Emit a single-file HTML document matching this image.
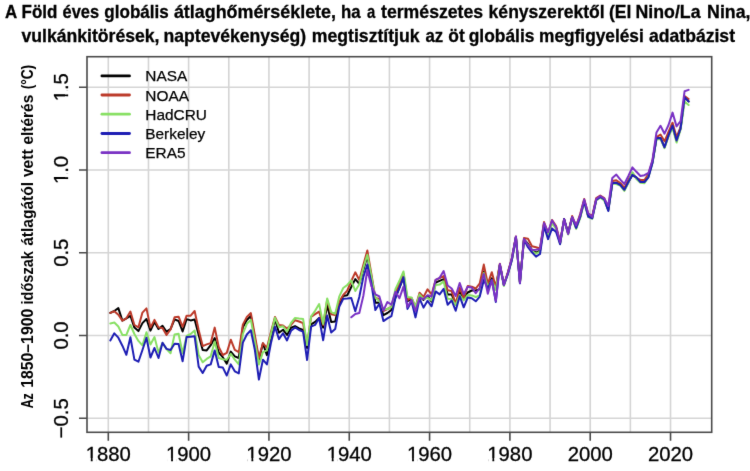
<!DOCTYPE html><html><head><meta charset="utf-8"><style>
html,body{margin:0;padding:0;background:#fff;}
body{width:750px;height:471px;position:relative;overflow:hidden;}
svg{position:absolute;left:0;top:0;}
svg text{font-family:"Liberation Sans",sans-serif;}
</style></head><body>
<svg width="750" height="471" viewBox="0 0 750 471">
<defs><filter id="soft" x="0" y="0" width="750" height="471" filterUnits="userSpaceOnUse" color-interpolation-filters="sRGB"><feConvolveMatrix order="3" kernelMatrix="0.0064 0.0672 0.0064 0.0672 0.7056 0.0672 0.0064 0.0672 0.0064" divisor="1" edgeMode="none" preserveAlpha="false"/></filter></defs>
<rect x="0" y="0" width="750" height="471" fill="#fff"/>
<g filter="url(#soft)">
<path d="M108.30 56.7V432.3M148.46 56.7V432.3M188.62 56.7V432.3M228.78 56.7V432.3M268.94 56.7V432.3M309.10 56.7V432.3M349.26 56.7V432.3M389.42 56.7V432.3M429.58 56.7V432.3M469.74 56.7V432.3M509.90 56.7V432.3M550.06 56.7V432.3M590.22 56.7V432.3M630.38 56.7V432.3M670.54 56.7V432.3M87.0 418.25H711.7M87.0 335.50H711.7M87.0 252.75H711.7M87.0 170.00H711.7M87.0 87.25H711.7" stroke="#d5d5d5" stroke-width="1.6" fill="none"/>
<polyline points="110.31,312.90 114.32,311.00 118.34,308.10 122.36,320.60 126.37,318.30 130.39,315.80 134.40,327.60 138.42,331.10 142.44,323.10 146.45,319.00 150.47,330.60 154.48,322.10 158.50,329.00 162.52,325.80 166.53,331.70 170.55,329.00 174.56,319.40 178.58,321.00 182.60,331.50 186.61,319.10 190.63,320.40 194.64,319.50 198.66,335.00 202.68,349.90 206.69,350.40 210.71,345.20 214.72,338.00 218.74,352.50 222.76,357.20 226.77,363.60 230.79,351.60 234.80,356.30 238.82,358.00 242.84,327.20 246.85,320.00 250.87,316.00 254.88,339.00 258.90,359.70 262.92,343.50 266.93,355.10 270.95,337.00 274.96,319.10 278.98,332.70 283.00,329.70 287.01,334.90 291.03,327.70 295.04,326.10 299.06,328.30 303.08,330.00 307.09,348.00 311.11,324.40 315.12,321.90 319.14,318.00 323.16,327.60 327.17,305.20 331.19,321.90 335.20,321.50 339.22,304.40 343.24,295.90 347.25,295.30 351.27,287.00 355.28,279.10 359.30,283.80 363.32,270.00 367.33,256.20 371.35,277.00 375.36,302.80 379.38,302.40 383.40,315.20 387.41,313.00 391.43,310.00 395.44,297.70 399.46,287.60 403.48,277.40 407.49,301.00 411.51,299.50 415.52,310.00 419.54,296.10 423.56,299.90 427.57,296.00 431.59,301.60 435.60,282.50 439.62,280.80 443.64,279.10 447.65,294.50 451.67,294.40 455.68,304.70 459.70,292.00 463.72,298.80 467.73,292.50 471.75,290.50 475.76,290.50 479.78,289.30 483.80,271.40 487.81,285.50 491.83,278.20 495.84,287.60 499.86,265.00 503.88,285.00 507.89,273.00 511.91,259.00 515.92,237.00 519.94,282.00 523.96,239.50 527.97,243.80 531.99,250.00 536.00,252.70 540.02,250.60 544.04,224.00 548.05,236.00 552.07,222.00 556.08,228.00 560.10,243.00 564.12,219.30 568.13,233.50 572.15,217.00 576.16,228.00 580.18,217.00 584.20,201.00 588.21,216.10 592.23,217.80 596.24,199.50 600.26,196.70 604.28,199.50 608.29,210.00 612.31,182.60 616.32,183.00 620.34,184.70 624.36,189.90 628.37,182.00 632.39,174.90 636.40,178.00 640.42,181.80 644.44,182.20 648.45,176.00 652.47,162.00 656.48,138.30 660.50,137.90 664.52,147.30 668.53,135.40 672.55,126.80 676.56,140.50 680.58,128.50 684.60,97.10 688.61,101.40" fill="none" stroke="#000000" stroke-width="2.0" stroke-linejoin="round" stroke-linecap="round"/>
<polyline points="110.31,312.90 114.32,311.30 118.34,314.80 122.36,320.60 126.37,318.30 130.39,311.60 134.40,325.00 138.42,327.30 142.44,312.60 146.45,308.40 150.47,327.60 154.48,319.90 158.50,327.40 162.52,327.90 166.53,334.90 170.55,329.50 174.56,317.30 178.58,316.70 182.60,326.80 186.61,315.70 190.63,315.70 194.64,311.00 198.66,330.00 202.68,346.10 206.69,344.40 210.71,343.10 214.72,327.60 218.74,347.00 222.76,355.00 226.77,352.90 230.79,339.70 234.80,349.90 238.82,352.10 242.84,324.60 246.85,316.90 250.87,313.10 254.88,335.50 258.90,358.00 262.92,343.10 266.93,347.80 270.95,332.00 274.96,316.90 278.98,325.10 283.00,325.50 287.01,328.50 291.03,324.90 295.04,320.20 299.06,321.50 303.08,323.20 307.09,345.00 311.11,316.80 315.12,314.20 319.14,311.60 323.16,325.00 327.17,300.00 331.19,314.20 335.20,315.00 339.22,301.80 343.24,295.00 347.25,290.60 351.27,281.00 355.28,272.30 359.30,280.00 363.32,265.00 367.33,250.40 371.35,274.00 375.36,298.00 379.38,299.00 383.40,311.00 387.41,309.00 391.43,307.00 395.44,292.00 399.46,284.00 403.48,274.00 407.49,300.00 411.51,298.00 415.52,307.00 419.54,292.70 423.56,296.90 427.57,289.30 431.59,294.40 435.60,279.90 439.62,278.20 443.64,276.10 447.65,290.20 451.67,291.10 455.68,303.90 459.70,287.60 463.72,297.90 467.73,286.00 471.75,286.70 475.76,288.50 479.78,283.30 483.80,264.60 487.81,283.80 491.83,272.20 495.84,287.00 499.86,263.70 503.88,285.00 507.89,272.00 511.91,258.00 515.92,236.50 519.94,282.00 523.96,238.00 527.97,238.70 531.99,246.30 536.00,247.20 540.02,248.50 544.04,222.00 548.05,233.00 552.07,220.00 556.08,226.00 560.10,242.00 564.12,219.00 568.13,233.00 572.15,216.00 576.16,226.00 580.18,214.00 584.20,199.00 588.21,214.00 592.23,216.00 596.24,198.00 600.26,195.50 604.28,198.00 608.29,208.50 612.31,181.00 616.32,180.30 620.34,183.00 624.36,188.00 628.37,180.00 632.39,173.00 636.40,178.00 640.42,180.00 644.44,180.00 648.45,174.00 652.47,161.00 656.48,137.10 660.50,134.60 664.52,141.30 668.53,132.00 672.55,122.70 676.56,137.10 680.58,127.00 684.60,96.00 688.61,99.00" fill="none" stroke="#bc3a2a" stroke-width="2.0" stroke-linejoin="round" stroke-linecap="round"/>
<polyline points="110.31,323.50 114.32,322.50 118.34,326.50 122.36,334.90 126.37,334.90 130.39,325.00 134.40,334.00 138.42,340.90 142.44,345.30 146.45,332.30 150.47,344.50 154.48,337.10 158.50,352.50 162.52,343.00 166.53,349.00 170.55,353.20 174.56,334.50 178.58,333.80 182.60,353.20 186.61,336.00 190.63,334.00 194.64,330.60 198.66,355.00 202.68,362.30 206.69,358.90 210.71,356.30 214.72,341.40 218.74,358.00 222.76,359.30 226.77,359.70 230.79,353.80 234.80,359.70 238.82,364.40 242.84,334.00 246.85,323.80 250.87,319.90 254.88,341.50 258.90,364.50 262.92,352.10 266.93,350.40 270.95,334.00 274.96,317.80 278.98,327.20 283.00,326.30 287.01,331.50 291.03,323.00 295.04,318.00 299.06,318.50 303.08,318.90 307.09,345.00 311.11,316.30 315.12,310.80 319.14,304.00 323.16,324.00 327.17,298.40 331.19,312.10 335.20,313.80 339.22,296.70 343.24,288.00 347.25,285.00 351.27,280.40 355.28,291.00 359.30,284.20 363.32,268.00 367.33,254.80 371.35,276.00 375.36,297.70 379.38,301.10 383.40,309.60 387.41,309.00 391.43,307.20 395.44,289.30 399.46,280.80 403.48,271.50 407.49,297.00 411.51,297.50 415.52,307.00 419.54,294.40 423.56,299.10 427.57,297.80 431.59,300.40 435.60,285.00 439.62,284.60 443.64,281.40 447.65,298.80 451.67,299.00 455.68,305.00 459.70,295.00 463.72,300.50 467.73,294.90 471.75,295.40 475.76,297.00 479.78,295.40 483.80,273.00 487.81,287.00 491.83,280.00 495.84,290.00 499.86,266.00 503.88,286.00 507.89,274.00 511.91,260.00 515.92,238.00 519.94,283.00 523.96,240.50 527.97,244.80 531.99,251.00 536.00,253.70 540.02,251.60 544.04,225.00 548.05,237.00 552.07,223.00 556.08,229.00 560.10,244.00 564.12,220.30 568.13,234.50 572.15,218.00 576.16,229.00 580.18,218.00 584.20,202.00 588.21,217.10 592.23,218.80 596.24,200.50 600.26,197.70 604.28,200.50 608.29,210.00 612.31,183.60 616.32,184.00 620.34,185.70 624.36,190.90 628.37,183.00 632.39,172.20 636.40,179.00 640.42,182.80 644.44,183.20 648.45,177.00 652.47,163.00 656.48,139.30 660.50,138.90 664.52,148.20 668.53,136.40 672.55,127.80 676.56,142.60 680.58,129.50 684.60,101.50 688.61,105.00" fill="none" stroke="#88e064" stroke-width="2.0" stroke-linejoin="round" stroke-linecap="round"/>
<polyline points="110.31,340.40 114.32,333.30 118.34,337.70 122.36,345.70 126.37,354.80 130.39,337.20 134.40,359.60 138.42,361.70 142.44,350.00 146.45,337.70 150.47,357.50 154.48,348.00 158.50,358.00 162.52,342.70 166.53,348.90 170.55,350.00 174.56,343.80 178.58,344.10 182.60,361.30 186.61,337.10 190.63,336.70 194.64,336.30 198.66,366.60 202.68,373.00 206.69,365.70 210.71,364.40 214.72,350.40 218.74,367.00 222.76,367.40 226.77,375.50 230.79,364.40 234.80,371.30 238.82,373.40 242.84,342.60 246.85,334.50 250.87,330.20 254.88,350.00 258.90,379.50 262.92,359.70 266.93,364.40 270.95,343.00 274.96,326.80 278.98,339.10 283.00,333.20 287.01,340.40 291.03,330.80 295.04,327.40 299.06,330.00 303.08,331.70 307.09,360.00 311.11,326.60 315.12,324.90 319.14,318.00 323.16,340.20 327.17,315.50 331.19,332.50 335.20,329.10 339.22,306.90 343.24,298.80 347.25,298.50 351.27,298.00 355.28,311.30 359.30,297.00 363.32,277.00 367.33,264.50 371.35,283.00 375.36,310.00 379.38,303.70 383.40,321.10 387.41,318.40 391.43,316.10 395.44,297.80 399.46,287.60 403.48,277.30 407.49,308.90 411.51,301.20 415.52,317.40 419.54,298.70 423.56,307.60 427.57,300.80 431.59,306.30 435.60,291.40 439.62,294.40 443.64,288.90 447.65,304.70 451.67,300.50 455.68,310.70 459.70,296.20 463.72,307.30 467.73,297.50 471.75,298.30 475.76,301.30 479.78,296.60 483.80,279.90 487.81,288.50 491.83,279.90 495.84,302.00 499.86,265.00 503.88,285.00 507.89,274.00 511.91,260.00 515.92,237.00 519.94,283.30 523.96,239.50 527.97,247.20 531.99,252.30 536.00,256.60 540.02,254.00 544.04,226.30 548.05,239.10 552.07,228.50 556.08,232.00 560.10,244.20 564.12,219.10 568.13,233.20 572.15,217.50 576.16,228.00 580.18,217.00 584.20,201.00 588.21,216.50 592.23,218.30 596.24,200.00 600.26,197.00 604.28,199.50 608.29,211.00 612.31,183.30 616.32,182.80 620.34,185.00 624.36,189.80 628.37,182.00 632.39,174.80 636.40,177.30 640.42,182.00 644.44,182.00 648.45,177.30 652.47,163.00 656.48,138.30 660.50,137.90 664.52,147.30 668.53,135.40 672.55,125.60 676.56,140.50 680.58,128.50 684.60,97.10 688.61,101.40" fill="none" stroke="#1e1eb4" stroke-width="2.0" stroke-linejoin="round" stroke-linecap="round"/>
<polyline points="351.27,317.30 355.28,313.90 359.30,313.00 363.32,296.00 367.33,270.00 371.35,286.00 375.36,294.30 379.38,296.40 383.40,310.50 387.41,302.00 391.43,304.60 395.44,291.80 399.46,298.20 403.48,286.70 407.49,307.00 411.51,299.90 415.52,311.00 419.54,297.80 423.56,299.10 427.57,295.20 431.59,296.50 435.60,279.90 439.62,277.80 443.64,271.00 447.65,285.50 451.67,288.50 455.68,296.00 459.70,283.00 463.72,294.20 467.73,286.70 471.75,287.60 475.76,293.20 479.78,288.00 483.80,274.00 487.81,293.80 491.83,280.30 495.84,301.00 499.86,264.00 503.88,285.00 507.89,273.00 511.91,258.00 515.92,236.50 519.94,283.00 523.96,239.00 527.97,245.00 531.99,250.00 536.00,249.70 540.02,249.00 544.04,222.90 548.05,232.30 552.07,220.40 556.08,227.00 560.10,242.50 564.12,219.50 568.13,234.00 572.15,217.00 576.16,225.50 580.18,215.00 584.20,199.50 588.21,213.20 592.23,217.00 596.24,199.00 600.26,196.00 604.28,198.50 608.29,206.00 612.31,178.00 616.32,174.60 620.34,179.60 624.36,184.00 628.37,176.00 632.39,167.40 636.40,171.80 640.42,176.00 644.44,175.20 648.45,173.00 652.47,160.00 656.48,132.40 660.50,125.80 664.52,133.70 668.53,125.00 672.55,112.60 676.56,126.40 680.58,121.10 684.60,91.20 688.61,89.90" fill="none" stroke="#7a32c4" stroke-width="2.0" stroke-linejoin="round" stroke-linecap="round"/>
<rect x="87.0" y="56.7" width="624.7" height="375.6" fill="none" stroke="#4a4a4a" stroke-width="1.6"/>
<path d="M108.30 432.3V440.8M188.62 432.3V440.8M268.94 432.3V440.8M349.26 432.3V440.8M429.58 432.3V440.8M509.90 432.3V440.8M590.22 432.3V440.8M670.54 432.3V440.8M87.0 418.25H79.0M87.0 335.50H79.0M87.0 252.75H79.0M87.0 170.00H79.0M87.0 87.25H79.0" stroke="#4a4a4a" stroke-width="1.6" fill="none"/>
<text x="85.72" y="461.4" font-size="20.3" fill="#000" stroke="#000" stroke-width="0.3">1880</text>
<rect x="86.74" y="458.15" width="4.04" height="4.06" fill="#fff"/>
<rect x="92.64" y="458.15" width="3.84" height="4.06" fill="#fff"/>
<text x="166.04" y="461.4" font-size="20.3" fill="#000" stroke="#000" stroke-width="0.3">1900</text>
<rect x="167.06" y="458.15" width="4.04" height="4.06" fill="#fff"/>
<rect x="172.96" y="458.15" width="3.84" height="4.06" fill="#fff"/>
<text x="246.36" y="461.4" font-size="20.3" fill="#000" stroke="#000" stroke-width="0.3">1920</text>
<rect x="247.38" y="458.15" width="4.04" height="4.06" fill="#fff"/>
<rect x="253.28" y="458.15" width="3.84" height="4.06" fill="#fff"/>
<text x="326.68" y="461.4" font-size="20.3" fill="#000" stroke="#000" stroke-width="0.3">1940</text>
<rect x="327.70" y="458.15" width="4.04" height="4.06" fill="#fff"/>
<rect x="333.60" y="458.15" width="3.84" height="4.06" fill="#fff"/>
<text x="407.00" y="461.4" font-size="20.3" fill="#000" stroke="#000" stroke-width="0.3">1960</text>
<rect x="408.02" y="458.15" width="4.04" height="4.06" fill="#fff"/>
<rect x="413.92" y="458.15" width="3.84" height="4.06" fill="#fff"/>
<text x="487.32" y="461.4" font-size="20.3" fill="#000" stroke="#000" stroke-width="0.3">1980</text>
<rect x="488.34" y="458.15" width="4.04" height="4.06" fill="#fff"/>
<rect x="494.24" y="458.15" width="3.84" height="4.06" fill="#fff"/>
<text x="567.64" y="461.4" font-size="20.3" fill="#000" stroke="#000" stroke-width="0.3">2000</text>
<text x="647.96" y="461.4" font-size="20.3" fill="#000" stroke="#000" stroke-width="0.3">2020</text>
<g transform="translate(68.3 418.25) rotate(-90)"><text x="-20.04" y="0" font-size="20.3" fill="#000" stroke="#000" stroke-width="0.3">−0.5</text></g>
<g transform="translate(68.3 335.50) rotate(-90)"><text x="-14.11" y="0" font-size="20.3" fill="#000" stroke="#000" stroke-width="0.3">0.0</text></g>
<g transform="translate(68.3 252.75) rotate(-90)"><text x="-14.11" y="0" font-size="20.3" fill="#000" stroke="#000" stroke-width="0.3">0.5</text></g>
<g transform="translate(68.3 170.00) rotate(-90)"><text x="-14.11" y="0" font-size="20.3" fill="#000" stroke="#000" stroke-width="0.3">1.0</text><rect x="-13.09" y="-3.25" width="4.04" height="4.06" fill="#fff"/><rect x="-7.19" y="-3.25" width="3.84" height="4.06" fill="#fff"/></g>
<g transform="translate(68.3 87.25) rotate(-90)"><text x="-14.11" y="0" font-size="20.3" fill="#000" stroke="#000" stroke-width="0.3">1.5</text><rect x="-13.09" y="-3.25" width="4.04" height="4.06" fill="#fff"/><rect x="-7.19" y="-3.25" width="3.84" height="4.06" fill="#fff"/></g>
<text transform="translate(32.9 408.37) rotate(-90) scale(0.7663 1)" font-size="16.2" font-weight="bold" fill="#000">Az</text>
<text transform="translate(32.9 387.76) rotate(-90) scale(0.9747 1)" font-size="16.2" font-weight="bold" fill="#000">1850–1900</text>
<text transform="translate(32.9 304.47) rotate(-90) scale(0.8990 1)" font-size="16.2" font-weight="bold" fill="#000">időszak</text>
<text transform="translate(32.9 245.85) rotate(-90) scale(0.9607 1)" font-size="16.2" font-weight="bold" fill="#000">átlagától</text>
<text transform="translate(32.9 177.11) rotate(-90) scale(0.9634 1)" font-size="16.2" font-weight="bold" fill="#000">vett</text>
<text transform="translate(32.9 144.57) rotate(-90) scale(0.9562 1)" font-size="16.2" font-weight="bold" fill="#000">eltérés</text>
<text transform="translate(32.9 89.34) rotate(-90) scale(0.8474 1)" font-size="16.2" font-weight="bold" fill="#000">(°C)</text>
<text transform="translate(4.91 17.5) scale(0.9638 1)" font-size="17.5" font-weight="bold" fill="#000" stroke="#000" stroke-width="0.3">A</text>
<text transform="translate(21.53 17.5) scale(0.9707 1)" font-size="17.5" font-weight="bold" fill="#000" stroke="#000" stroke-width="0.3">Föld</text>
<text transform="translate(62.59 17.5) scale(0.9382 1)" font-size="17.5" font-weight="bold" fill="#000" stroke="#000" stroke-width="0.3">éves</text>
<text transform="translate(104.33 17.5) scale(0.9740 1)" font-size="17.5" font-weight="bold" fill="#000" stroke="#000" stroke-width="0.3">globális</text>
<text transform="translate(173.88 17.5) scale(1.0235 1)" font-size="17.5" font-weight="bold" fill="#000" stroke="#000" stroke-width="0.3">átlaghőmérséklete,</text>
<text transform="translate(340.97 17.5) scale(0.9593 1)" font-size="17.5" font-weight="bold" fill="#000" stroke="#000" stroke-width="0.3">ha</text>
<text transform="translate(367.00 17.5) scale(0.8485 1)" font-size="17.5" font-weight="bold" fill="#000" stroke="#000" stroke-width="0.3">a</text>
<text transform="translate(381.04 17.5) scale(1.0092 1)" font-size="17.5" font-weight="bold" fill="#000" stroke="#000" stroke-width="0.3">természetes</text>
<text transform="translate(488.62 17.5) scale(1.0027 1)" font-size="17.5" font-weight="bold" fill="#000" stroke="#000" stroke-width="0.3">kényszerektől</text>
<text transform="translate(608.97 17.5) scale(1.0017 1)" font-size="17.5" font-weight="bold" fill="#000" stroke="#000" stroke-width="0.3">(El</text>
<text transform="translate(635.48 17.5) scale(1.0142 1)" font-size="17.5" font-weight="bold" fill="#000" stroke="#000" stroke-width="0.3">Nino/La</text>
<text transform="translate(707.08 17.5) scale(1.0133 1)" font-size="17.5" font-weight="bold" fill="#000" stroke="#000" stroke-width="0.3">Nina,</text>
<text transform="translate(21.48 41.5) scale(1.0073 1)" font-size="17.5" font-weight="bold" fill="#000" stroke="#000" stroke-width="0.3">vulkánkitörések,</text>
<text transform="translate(163.59 41.5) scale(1.0050 1)" font-size="17.5" font-weight="bold" fill="#000" stroke="#000" stroke-width="0.3">naptevékenység)</text>
<text transform="translate(311.79 41.5) scale(1.0085 1)" font-size="17.5" font-weight="bold" fill="#000" stroke="#000" stroke-width="0.3">megtisztítjuk</text>
<text transform="translate(425.45 41.5) scale(0.9582 1)" font-size="17.5" font-weight="bold" fill="#000" stroke="#000" stroke-width="0.3">az</text>
<text transform="translate(448.25 41.5) scale(0.9952 1)" font-size="17.5" font-weight="bold" fill="#000" stroke="#000" stroke-width="0.3">öt</text>
<text transform="translate(468.72 41.5) scale(0.9941 1)" font-size="17.5" font-weight="bold" fill="#000" stroke="#000" stroke-width="0.3">globális</text>
<text transform="translate(539.01 41.5) scale(0.9890 1)" font-size="17.5" font-weight="bold" fill="#000" stroke="#000" stroke-width="0.3">megfigyelési</text>
<text transform="translate(649.02 41.5) scale(1.0054 1)" font-size="17.5" font-weight="bold" fill="#000" stroke="#000" stroke-width="0.3">adatbázist</text>
<line x1="101.9" y1="75.9" x2="129.5" y2="75.9" stroke="#000000" stroke-width="2.8" stroke-linecap="round"/>
<text x="145.3" y="81.4" font-size="15.4" fill="#000" stroke="#000" stroke-width="0.25">NASA</text>
<line x1="101.9" y1="95.0" x2="129.5" y2="95.0" stroke="#bc3a2a" stroke-width="2.8" stroke-linecap="round"/>
<text x="145.3" y="100.5" font-size="15.4" fill="#000" stroke="#000" stroke-width="0.25">NOAA</text>
<line x1="101.9" y1="114.2" x2="129.5" y2="114.2" stroke="#88e064" stroke-width="2.8" stroke-linecap="round"/>
<text x="145.3" y="119.7" font-size="15.4" fill="#000" stroke="#000" stroke-width="0.25">HadCRU</text>
<line x1="101.9" y1="133.5" x2="129.5" y2="133.5" stroke="#1e1eb4" stroke-width="2.8" stroke-linecap="round"/>
<text x="145.3" y="139.0" font-size="15.4" fill="#000" stroke="#000" stroke-width="0.25">Berkeley</text>
<line x1="101.9" y1="152.7" x2="129.5" y2="152.7" stroke="#7a32c4" stroke-width="2.8" stroke-linecap="round"/>
<text x="145.3" y="158.2" font-size="15.4" fill="#000" stroke="#000" stroke-width="0.25">ERA5</text>
</g>
</svg>
</body></html>
